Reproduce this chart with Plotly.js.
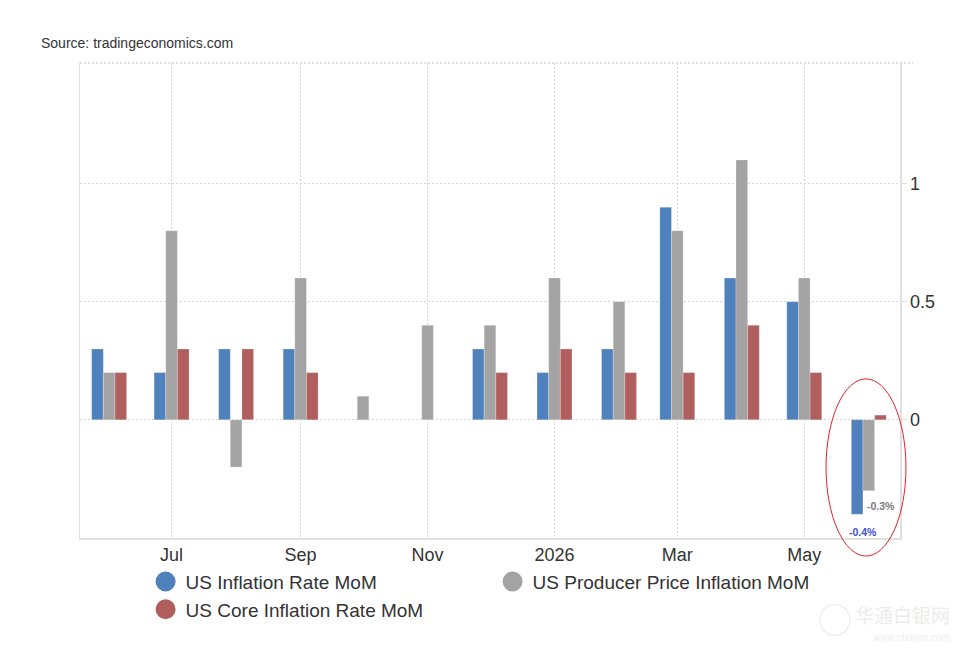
<!DOCTYPE html>
<html>
<head>
<meta charset="utf-8">
<script src="https://cdn.plot.ly/plotly-3.0.1.min.js"></script>
<style>
html,body{margin:0;padding:0;background:#fff;}
#chart{width:964px;height:660px;}
</style>
</head>
<body>
<div id="chart"></div>
<script>
// ---- data ----
var months = ['2025-06-01','2025-07-01','2025-08-01','2025-09-01','2025-10-01','2025-11-01','2025-12-01',
              '2026-01-01','2026-02-01','2026-03-01','2026-04-01','2026-05-01','2026-06-01'];
var cpiMoM  = [0.3, 0.2, 0.3, 0.3, null, null, 0.3, 0.2, 0.3, 0.9, 0.6, 0.5, -0.4];
var ppiMoM  = [0.2, 0.8, -0.2, 0.6, 0.1, 0.4, 0.4, 0.6, 0.5, 0.8, 1.1, 0.6, -0.3];
var coreMoM = [0.2, 0.3, 0.3, 0.2, null, null, 0.2, 0.3, 0.2, 0.2, 0.4, 0.2, 0.02];
var seriesNames = ['US Inflation Rate MoM', 'US Producer Price Inflation MoM', 'US Core Inflation Rate MoM'];
var xTickVals = ['2025-07-01','2025-09-01','2025-11-01','2026-01-01','2026-03-01','2026-05-01'];
var xTickText = ['Jul','Sep','Nov','2026','Mar','May'];
var yTickVals = [0, 0.5, 1];
var yTickText = ['0','0.5','1'];

var colors = ['#4f81bd', '#a3a3a3', '#b05f5e'];
var font = 'Liberation Sans, Arial, sans-serif';

var seriesVals = [cpiMoM, ppiMoM, coreMoM];
var traces = [];
seriesVals.forEach(function(v, i){
  traces.push({
    type:'bar', x:months, y:v, name:seriesNames[i], showlegend:false,
    marker:{color:colors[i], line:{color:'rgba(255,255,255,0.25)', width:1}},
    hoverinfo:'skip'
  });
});
// legend entries (circle symbols)
[0, 1, 2].forEach(function(i){
  traces.push({
    type:'scatter', mode:'markers', x:[null], y:[null], name:seriesNames[i],
    marker:{color:colors[i], size:16, symbol:'circle', line:{color:colors[i], width:4}},
    showlegend:true, hoverinfo:'skip'
  });
});

var last = months.length - 1;
var fmt = function(v){ return v.toFixed(1) + '%'; };
var dotted = '2px,2px';

var layout = {
  width:964, height:660,
  margin:{l:80, r:64, t:63, b:122},
  paper_bgcolor:'#fff', plot_bgcolor:'#fff',
  font:{family:font, color:'#333'},
  barmode:'group', bargap:0.4, bargroupgap:0,
  showlegend:true,
  legend:{orientation:'h', x:0.08, xanchor:'left', y:-0.052, yanchor:'top',
          font:{size:19, color:'#333', family:font}, entrywidth:302, entrywidthmode:'pixels',
          itemsizing:'trace', tracegroupgap:0, bgcolor:'rgba(0,0,0,0)'},
  xaxis:{
    type:'date', range:['2025-05-18','2026-06-16'],
    tickvals:xTickVals, ticktext:xTickText, ticks:'',
    tickfont:{size:18, color:'#333'},
    showgrid:true, gridcolor:'#d6d6d6', griddash:dotted, gridwidth:1,
    showline:true, linecolor:'#e0e0e0', linewidth:1.5, mirror:false,
    zeroline:false, fixedrange:true
  },
  yaxis:{
    side:'right', range:[-0.5, 1.51],
    tickvals:yTickVals, ticktext:yTickText,
    ticks:'outside', ticklen:5, tickcolor:'#e0e0e0',
    tickfont:{size:18, color:'#333'},
    showgrid:true, gridcolor:'#d6d6d6', griddash:dotted, gridwidth:1,
    showline:true, linecolor:'#e0e0e0', linewidth:1.5, mirror:true,
    zeroline:false, fixedrange:true
  },
  shapes:[
    {type:'line', xref:'paper', yref:'paper', x0:0, x1:1.016, y0:1, y1:1,
     line:{color:'#d6d6d6', width:1.5, dash:dotted}},
    {type:'circle', xref:'paper', yref:'paper', x0:0.9098, x1:1.0073, y0:-0.038, y1:0.335,
     line:{color:'#e8202a', width:1}, fillcolor:'rgba(0,0,0,0)'},
    {type:'circle', xref:'paper', yref:'paper', x0:0.902, x1:0.939, y0:-0.205, y1:-0.140,
     line:{color:'#efefef', width:1.5}, fillcolor:'rgba(0,0,0,0)'}
  ],
  annotations:[
    {xref:'paper', yref:'paper', x:-0.05, y:1.042, xanchor:'left', yanchor:'middle',
     text:'Source: tradingeconomics.com', showarrow:false, font:{size:14, color:'#333', family:font}},
    {x:months[last], y:cpiMoM[last], xref:'x', yref:'y', xanchor:'center', yanchor:'top',
     xshift:-6, yshift:-10, text:'<b>'+fmt(cpiMoM[last])+'</b>', showarrow:false,
     font:{size:10.5, color:'#3b4fd6', family:font}},
    {x:months[last], y:ppiMoM[last], xref:'x', yref:'y', xanchor:'center', yanchor:'top',
     xshift:12, yshift:-7, text:'<b>'+fmt(ppiMoM[last])+'</b>', showarrow:false,
     font:{size:10.5, color:'#7a7a7a', family:font}},
    {xref:'paper', yref:'paper', x:1.0635, y:-0.162, xanchor:'right', yanchor:'middle',
     text:'华通白银网', showarrow:false, font:{size:19, color:'#ececec', family:'Noto Sans CJK SC'}},
    {xref:'paper', yref:'paper', x:1.0635, y:-0.21, xanchor:'right', yanchor:'middle',
     text:'www.cbaiyin.com', showarrow:false, font:{size:10, color:'#eeeeee', family:font}}
  ]
};

Plotly.newPlot('chart', traces, layout, {displayModeBar:false, staticPlot:true});
</script>
</body>
</html>
